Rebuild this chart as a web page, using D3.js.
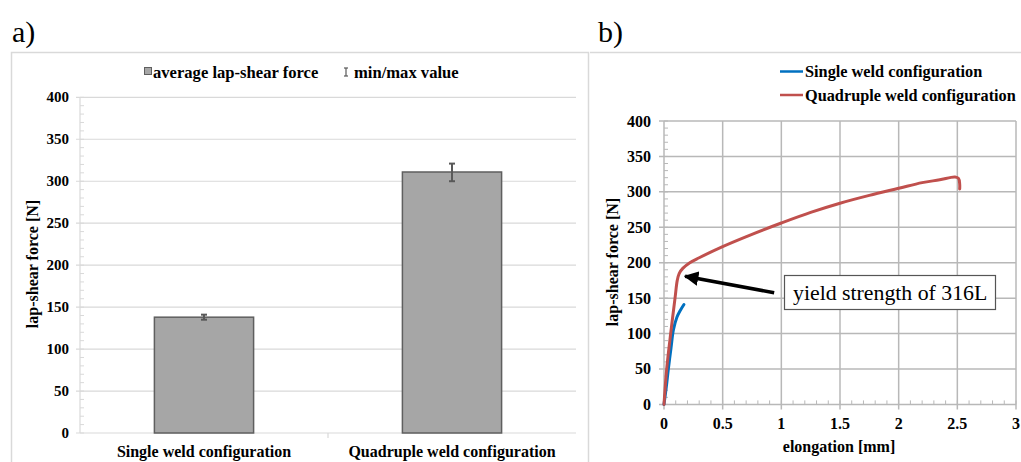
<!DOCTYPE html>
<html>
<head>
<meta charset="utf-8">
<script src="https://cdn.jsdelivr.net/npm/d3@7"></script>
<style>
  html, body { margin: 0; padding: 0; background: #fff; }
  svg { display: block; font-family: "Liberation Serif", "Times New Roman", serif; }
</style>
</head>
<body>
<svg id="chart" width="1021" height="462"></svg>
<script>
// Panel a: average lap-shear force with min/max
const categories = ["Single weld configuration", "Quadruple weld configuration"];
const avgForce = [138, 311];
const minForce = [135, 300];
const maxForce = [141, 321];
const barTicks = [0, 50, 100, 150, 200, 250, 300, 350, 400];

// Panel b: force vs elongation curves
const singleCurve = [
  [0, 0], [0.02, 25], [0.037, 50], [0.06, 80], [0.08, 105], [0.11, 123],
  [0.14, 133], [0.17, 141]
];
const quadCurve = [
  [0, 0], [0.023, 50], [0.057, 100], [0.094, 150], [0.113, 175], [0.13, 185],
  [0.16, 192], [0.22, 200], [0.3, 207], [0.49, 222], [0.75, 240], [1.0, 256],
  [1.25, 271], [1.5, 284], [1.75, 295], [2.0, 305], [2.2, 313], [2.35, 317],
  [2.48, 321], [2.51, 319], [2.52, 311], [2.52, 304]
];
const xTicksB = [0, 0.5, 1, 1.5, 2, 2.5, 3];
const yTicksB = [0, 50, 100, 150, 200, 250, 300, 350, 400];
const seriesNames = ["Single weld configuration", "Quadruple weld configuration"];
const seriesColors = ["#0070c0", "#c0504d"];

const svg = d3.select("#chart");

// ---------- panel a ----------
svg.append("text").attr("x", 12).attr("y", 42)
  .attr("font-size", 30).text("a)");

svg.append("rect")
  .attr("x", 11.5).attr("y", 52.5).attr("width", 577).attr("height", 420)
  .attr("fill", "none").attr("stroke", "#d9d9d9").attr("stroke-width", 1.5);

const ya = d3.scaleLinear().domain([0, 400]).range([433, 97.3]);
const xa = d3.scaleBand().domain(categories).range([80, 576]);

const ga = svg.append("g");

// minor ticks every 10
ga.append("g").selectAll("line")
  .data(d3.range(0, 401, 10))
  .join("line")
  .attr("x1", 80).attr("x2", 84)
  .attr("y1", d => ya(d)).attr("y2", d => ya(d))
  .attr("stroke", "#d9d9d9");

// gridlines
ga.append("g").selectAll("line")
  .data(barTicks)
  .join("line")
  .attr("x1", 76).attr("x2", 576)
  .attr("y1", d => ya(d)).attr("y2", d => ya(d))
  .attr("stroke", "#d9d9d9").attr("stroke-width", 1.2);

ga.append("line")
  .attr("x1", 80).attr("x2", 80).attr("y1", ya(400)).attr("y2", ya(0))
  .attr("stroke", "#d9d9d9").attr("stroke-width", 1.2);
ga.append("line")
  .attr("x1", 328).attr("x2", 328).attr("y1", ya(0)).attr("y2", ya(0) + 5)
  .attr("stroke", "#d9d9d9").attr("stroke-width", 1.2);

ga.append("g").selectAll("text")
  .data(barTicks)
  .join("text")
  .attr("x", 69).attr("y", d => ya(d) + 5)
  .attr("text-anchor", "end").attr("font-size", 15).attr("font-weight", "bold")
  .text(d => d);

const barW = xa.bandwidth() * 0.4;
ga.append("g").selectAll("rect")
  .data(avgForce)
  .join("rect")
  .attr("x", (d, i) => xa(categories[i]) + xa.bandwidth() / 2 - barW / 2)
  .attr("y", d => ya(d))
  .attr("width", barW)
  .attr("height", d => ya(0) - ya(d))
  .attr("fill", "#a6a6a6").attr("stroke", "#5f5f5f").attr("stroke-width", 1.5);

// error bars
const eb = ga.append("g").attr("stroke", "#595959").attr("stroke-width", 2);
categories.forEach((c, i) => {
  const cx = xa(c) + xa.bandwidth() / 2;
  eb.append("line").attr("x1", cx).attr("x2", cx)
    .attr("y1", ya(minForce[i])).attr("y2", ya(maxForce[i]));
  eb.append("line").attr("x1", cx - 3).attr("x2", cx + 3)
    .attr("y1", ya(minForce[i])).attr("y2", ya(minForce[i]));
  eb.append("line").attr("x1", cx - 3).attr("x2", cx + 3)
    .attr("y1", ya(maxForce[i])).attr("y2", ya(maxForce[i]));
});

ga.append("g").selectAll("text")
  .data(categories)
  .join("text")
  .attr("x", d => xa(d) + xa.bandwidth() / 2).attr("y", 457)
  .attr("text-anchor", "middle").attr("font-size", 16).attr("font-weight", "bold")
  .text(d => d);

ga.append("text")
  .attr("transform", "translate(38,264) rotate(-90)")
  .attr("text-anchor", "middle").attr("font-size", 16).attr("font-weight", "bold")
  .text("lap-shear force [N]");

// legend a
ga.append("rect").attr("x", 144.5).attr("y", 67.5).attr("width", 7).attr("height", 7)
  .attr("fill", "#a6a6a6").attr("stroke", "#5f5f5f");
ga.append("text").attr("x", 153).attr("y", 78).attr("font-size", 16.6).attr("font-weight", "bold")
  .text("average lap-shear force");
const lgE = ga.append("g").attr("stroke", "#595959").attr("stroke-width", 1.2);
lgE.append("line").attr("x1", 346).attr("x2", 346).attr("y1", 68).attr("y2", 76);
lgE.append("line").attr("x1", 344).attr("x2", 348).attr("y1", 68).attr("y2", 68);
lgE.append("line").attr("x1", 344).attr("x2", 348).attr("y1", 76).attr("y2", 76);
ga.append("text").attr("x", 354).attr("y", 78).attr("font-size", 16.6).attr("font-weight", "bold")
  .text("min/max value");

// ---------- panel b ----------
svg.append("text").attr("x", 598).attr("y", 42)
  .attr("font-size", 30).text("b)");
svg.append("line").attr("x1", 590).attr("x2", 1021).attr("y1", 52.5).attr("y2", 52.5)
  .attr("stroke", "#d9d9d9").attr("stroke-width", 1.5);

const xb = d3.scaleLinear().domain([0, 3]).range([664, 1016]);
const yb = d3.scaleLinear().domain([0, 400]).range([404.4, 121]);
const gb = svg.append("g");

const gridCol = "#b8b8b8";
gb.append("g").selectAll("line")
  .data(xTicksB)
  .join("line")
  .attr("x1", d => xb(d)).attr("x2", d => xb(d))
  .attr("y1", yb(400)).attr("y2", yb(0) + 5)
  .attr("stroke", gridCol).attr("stroke-width", 1.5);
gb.append("g").selectAll("line")
  .data(yTicksB)
  .join("line")
  .attr("x1", xb(0) - 5).attr("x2", xb(3))
  .attr("y1", d => yb(d)).attr("y2", d => yb(d))
  .attr("stroke", gridCol).attr("stroke-width", 1.5);

// minor ticks
gb.append("g").selectAll("line")
  .data(d3.range(0, 31).map(d => d / 10))
  .join("line")
  .attr("x1", d => xb(d)).attr("x2", d => xb(d))
  .attr("y1", yb(0)).attr("y2", yb(0) - 4)
  .attr("stroke", gridCol);
gb.append("g").selectAll("line")
  .data(d3.range(0, 401, 10))
  .join("line")
  .attr("x1", xb(0)).attr("x2", xb(0) + 4)
  .attr("y1", d => yb(d)).attr("y2", d => yb(d))
  .attr("stroke", gridCol);

gb.append("g").selectAll("text")
  .data(yTicksB)
  .join("text")
  .attr("x", 651).attr("y", d => yb(d) + 5.5)
  .attr("text-anchor", "end").attr("font-size", 16).attr("font-weight", "bold")
  .text(d => d);
gb.append("g").selectAll("text")
  .data(xTicksB)
  .join("text")
  .attr("x", d => xb(d)).attr("y", 429)
  .attr("text-anchor", "middle").attr("font-size", 16).attr("font-weight", "bold")
  .text(d => d);

gb.append("text")
  .attr("x", 839).attr("y", 452)
  .attr("text-anchor", "middle").attr("font-size", 16).attr("font-weight", "bold")
  .text("elongation [mm]");
gb.append("text")
  .attr("transform", "translate(618,262) rotate(-90)")
  .attr("text-anchor", "middle").attr("font-size", 16).attr("font-weight", "bold")
  .text("lap-shear force [N]");

const curves = [singleCurve, quadCurve];
const line = d3.line().x(p => xb(p[0])).y(p => yb(p[1])).curve(d3.curveCatmullRom.alpha(0.5));
gb.append("g").selectAll("path")
  .data(curves)
  .join("path")
  .attr("d", line)
  .attr("fill", "none")
  .attr("stroke", (d, i) => seriesColors[i])
  .attr("stroke-width", 3)
  .attr("stroke-linejoin", "round").attr("stroke-linecap", "round");

// legend b
seriesNames.forEach((name, i) => {
  const ly = 71.5 + i * 23.5;
  gb.append("line").attr("x1", 780).attr("x2", 803).attr("y1", ly).attr("y2", ly)
    .attr("stroke", seriesColors[i]).attr("stroke-width", 2.5);
  gb.append("text").attr("x", 805).attr("y", ly + 5.5).attr("font-size", 16.3)
    .attr("font-weight", "bold").text(name);
});

// annotation
const defs = svg.append("defs");
defs.append("marker")
  .attr("id", "arrow").attr("viewBox", "0 0 10 10")
  .attr("refX", 9).attr("refY", 5)
  .attr("markerWidth", 4.2).attr("markerHeight", 4.2)
  .attr("orient", "auto")
  .append("path").attr("d", "M0,0 L10,5 L0,10 Z").attr("fill", "#000");

gb.append("line")
  .attr("x1", xb(0.939)).attr("y1", yb(157.6))
  .attr("x2", xb(0.18)).attr("y2", yb(181))
  .attr("stroke", "#000").attr("stroke-width", 3.5)
  .attr("marker-end", "url(#arrow)");

gb.append("rect")
  .attr("x", 784.5).attr("y", 275.5).attr("width", 211).attr("height", 34)
  .attr("fill", "#fff").attr("stroke", "#555").attr("stroke-width", 1.2);
gb.append("text")
  .attr("x", 793).attr("y", 300).attr("font-size", 21.8)
  .text("yield strength of 316L");
</script>
</body>
</html>
